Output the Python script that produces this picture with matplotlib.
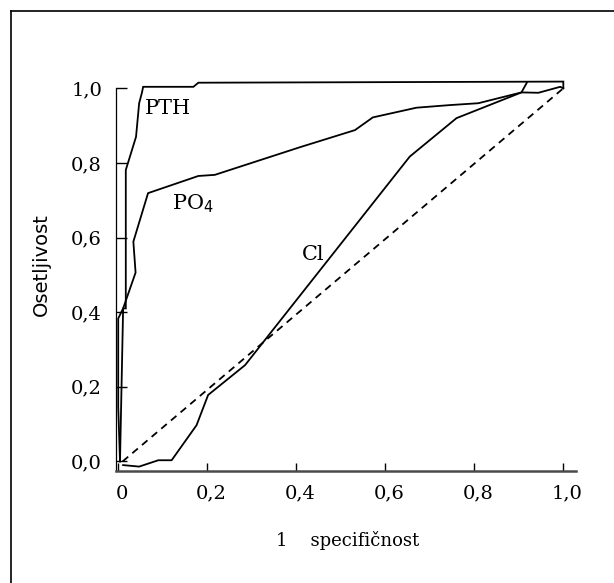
import matplotlib
matplotlib.use("Agg")
import matplotlib.pyplot as plt
from matplotlib.lines import Line2D
from matplotlib.transforms import ScaledTranslation

# ---- data ----
pth_x = [0.004, 0.0, 0.0, 0.011, 0.017, 0.017, 0.040, 0.047, 0.053, 0.056, 0.169, 0.180, 1.0, 1.0]
pth_y = [0.0, 0.146, 0.383, 0.41, 0.41, 0.781, 0.870, 0.960, 0.987, 1.004, 1.004, 1.015, 1.018, 1.0]

po4_x = [0.004, 0.011, 0.039, 0.034, 0.067, 0.180, 0.217, 0.408, 0.532, 0.572, 0.670, 0.745, 0.809, 0.906, 0.944, 0.993, 1.0]
po4_y = [0.0, 0.41, 0.506, 0.589, 0.719, 0.765, 0.768, 0.842, 0.888, 0.922, 0.948, 0.955, 0.960, 0.989, 0.988, 1.004, 1.0]

cl_x = [0.011, 0.047, 0.090, 0.120, 0.176, 0.202, 0.285, 0.655, 0.760, 0.906, 0.918]
cl_y = [-0.01, -0.014, 0.003, 0.003, 0.097, 0.178, 0.258, 0.817, 0.920, 0.989, 1.015]

ref_x = [0.01, 1.0]
ref_y = [0.0, 1.0]

xticks = [0.0, 0.2, 0.4, 0.6, 0.8, 1.0]
xticklabels = ["0", "0,2", "0,4", "0,6", "0,8", "1,0"]
yticks = [0.0, 0.2, 0.4, 0.6, 0.8, 1.0]
yticklabels = ["0,0", "0,2", "0,4", "0,6", "0,8", "1,0"]

W, H = 614, 583
fig = plt.figure(figsize=(W / 100, H / 100), dpi=100)

left_px, right_px = 116, 576
bottom_px, top_px = 470.7, 69.65
ax = fig.add_axes([left_px / W, (H - bottom_px) / H,
                   (right_px - left_px) / W, (bottom_px - top_px) / H])

lw = 1.3
ax.plot(pth_x, pth_y, color="black", lw=lw, solid_joinstyle="miter")
ax.plot(po4_x, po4_y, color="black", lw=lw)
ax.plot(cl_x, cl_y, color="black", lw=lw)
ax.plot(ref_x, ref_y, color="black", lw=lw, linestyle=(0, (4, 3)))

ax.set_xlim(-0.005, 1.0285)
ax.set_ylim(-0.025, 1.05)

for s in ["top", "right"]:
    ax.spines[s].set_visible(False)
ax.spines["left"].set_bounds(-0.025, 1.0)
ax.spines["left"].set_linewidth(0.9)
ax.spines["left"].set_color("black")
ax.spines["bottom"].set_linewidth(1.8)
ax.spines["bottom"].set_color("#4a4a4a")

serif = "DejaVu Serif"
ax.set_xticks(xticks)
ax.set_xticklabels(xticklabels, fontsize=14, family=serif)
ax.set_yticks(yticks)
ax.set_yticklabels(yticklabels, fontsize=14, family=serif)
ax.tick_params(axis="x", direction="in", length=6, width=1, pad=10, colors="black")
ax.tick_params(axis="y", direction="in", length=8, width=1, pad=10, colors="black")

shift = ScaledTranslation(4 / 100, 0, fig.dpi_scale_trans)
for lab in ax.get_xticklabels():
    lab.set_transform(lab.get_transform() + shift)

ax.text(0.06, 0.947, "PTH", fontsize=15, family=serif, va="center", ha="left")
ax.text(0.12, 0.692, "PO$_4$", fontsize=15, family=serif, va="center", ha="left")
ax.text(0.412, 0.555, "Cl", fontsize=15, family=serif, va="center", ha="left")

fig.text(276 / W, (H - 540) / H, "1    specifičnost", fontsize=13, family=serif,
         ha="left", va="center")
fig.text(41 / W, (H - 265) / H, "Osetljivost", fontsize=14, family="DejaVu Sans",
         rotation=90, ha="center", va="center")

# outer frame (left and top edges)
fy = (H - 10.7) / H
fx = 11 / W
fig.add_artist(Line2D([fx, fx], [0, fy], transform=fig.transFigure, color="black", lw=1.2))
fig.add_artist(Line2D([fx, 1], [fy, fy], transform=fig.transFigure, color="black", lw=1.2))

fig.savefig("out.png", dpi=100)
